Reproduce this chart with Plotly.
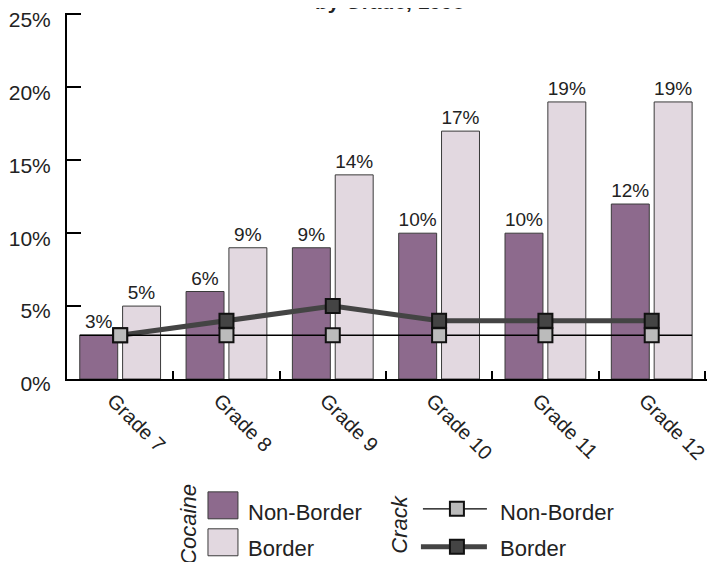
import plotly.graph_objects as go

grades = ["Grade 7", "Grade 8", "Grade 9", "Grade 10", "Grade 11", "Grade 12"]
cocaine_non_border = [3, 6, 9, 10, 10, 12]
cocaine_border = [5, 9, 14, 17, 19, 19]
crack_non_border = [3, 3, 3, 3, 3, 3]
crack_border = [3, 4, 5, 4, 4, 4]
y_ticks = [0, 5, 10, 15, 20, 25]
y_tick_labels = ["0%", "5%", "10%", "15%", "20%", "25%"]

PURPLE = "#8D6A8D"
PINK = "#E2D8E0"
EDGE = "#3A3A3A"
FONT = "Liberation Sans, Arial, sans-serif"

# axis ranges (slightly extended so the end ticks are not clipped)
X_RANGE = [-0.5, len(grades) - 0.5 + 0.02]
Y_RANGE = [0, 25.1]
X_UNIT = 638 / 6          # px per category
Y_UNIT = 365 / 25         # px per percent

# page body has an 8px default margin; the figure is sized to the visible window
OFF = 8
W, H = 718 - OFF, 562 - OFF
PL, PB = 67, 379                              # screen px of plot left / bottom
PW = (X_RANGE[1] - X_RANGE[0]) * X_UNIT
PH = (Y_RANGE[1] - Y_RANGE[0]) * Y_UNIT
PT = PB - PH
L, T = PL - OFF, PT - OFF
R = W - L - PW
B = H - T - PH

xs = list(range(len(grades)))
BAR_W = 0.357
GAP = 0.046

def px(x):
    return (x - PL) / PW

def py(y):
    return (PB - y) / PH

fig = go.Figure()

fig.add_trace(go.Bar(
    x=xs, y=cocaine_non_border, width=BAR_W, offset=-BAR_W - GAP / 2,
    marker=dict(color=PURPLE, line=dict(color=EDGE, width=1)),
    text=[f"{v}%" for v in cocaine_non_border], textposition="outside", constraintext="none",
    textfont=dict(size=19, color="#222", family=FONT), cliponaxis=False,
    showlegend=False, name="Cocaine Non-Border"))
fig.add_trace(go.Bar(
    x=xs, y=cocaine_border, width=BAR_W, offset=GAP / 2,
    marker=dict(color=PINK, line=dict(color=EDGE, width=1)),
    text=[f"{v}%" for v in cocaine_border], textposition="outside", constraintext="none",
    textfont=dict(size=19, color="#222", family=FONT), cliponaxis=False,
    showlegend=False, name="Cocaine Border"))

# crack border (thick)
fig.add_trace(go.Scatter(
    x=xs, y=crack_border, mode="lines+markers",
    line=dict(color="#444444", width=5),
    marker=dict(symbol="square", size=14, color="#444444", line=dict(color="#111", width=2)),
    showlegend=False, name="Crack Border", cliponaxis=False))
# crack non-border thin line spanning the bar groups
left_edge = xs[0] - BAR_W - GAP / 2
right_edge = xs[-1] + GAP / 2 + BAR_W
fig.add_trace(go.Scatter(
    x=[left_edge] + xs + [right_edge],
    y=[crack_non_border[0]] + crack_non_border + [crack_non_border[-1]],
    mode="lines", line=dict(color="#000", width=1.3),
    showlegend=False, hoverinfo="skip"))
fig.add_trace(go.Scatter(
    x=xs, y=crack_non_border, mode="markers",
    marker=dict(symbol="square", size=14, color="#BBBBBB", line=dict(color="#111", width=2)),
    showlegend=False, name="Crack Non-Border", cliponaxis=False))

fig.update_layout(
    width=W, height=H, autosize=False,
    margin=dict(l=L, r=R, t=T, b=B, pad=0),
    paper_bgcolor="white", plot_bgcolor="white",
    font=dict(family=FONT, color="#222"),
    barmode="overlay",
    xaxis=dict(
        range=X_RANGE, tickvals=xs, ticktext=grades,
        ticks="", tickangle=45, tickfont=dict(size=20, color="#222"),
        ticklabelshift=-7, ticklabeloverflow="allow",
        showline=True, linecolor="black", linewidth=2, showgrid=False, zeroline=False,
        automargin=False,
        minor=dict(tickvals=[x + 0.5 for x in xs], ticks="inside", ticklen=8,
                   tickwidth=2, tickcolor="black", showgrid=False),
    ),
    yaxis=dict(
        range=Y_RANGE, tickvals=y_ticks, ticktext=y_tick_labels,
        ticks="inside", ticklen=14, tickwidth=2, tickcolor="black",
        tickfont=dict(size=21, color="#222"), ticklabelstandoff=10, ticklabelshift=5,
        ticklabeloverflow="allow",
        showline=True, linecolor="black", linewidth=2, showgrid=False, zeroline=False,
        automargin=False,
    ),
)

shapes = []
annotations = []
LEG_FONT = dict(size=22, color="#222", family=FONT)

# title (cut at top)
annotations.append(dict(text="<b>by Grade, 1998</b>", xref="paper", yref="paper",
                        x=px(390), y=py(14.5), xanchor="center", yanchor="bottom",
                        showarrow=False, font=dict(size=21, color="#222", family=FONT)))

# legend: Cocaine
annotations.append(dict(text="<i>Cocaine</i>", textangle=-90, xref="paper", yref="paper",
                        x=px(189), y=py(524), xanchor="center", yanchor="middle",
                        showarrow=False, font=LEG_FONT))
shapes.append(dict(type="rect", xref="paper", yref="paper", x0=px(208), x1=px(238),
                   y0=py(519), y1=py(492), fillcolor=PURPLE, line=dict(color=EDGE, width=1)))
shapes.append(dict(type="rect", xref="paper", yref="paper", x0=px(208), x1=px(238),
                   y0=py(556), y1=py(529), fillcolor=PINK, line=dict(color=EDGE, width=1)))
annotations.append(dict(text="Non-Border", xref="paper", yref="paper", x=px(246), y=py(513),
                        xanchor="left", yanchor="middle", showarrow=False, font=LEG_FONT))
annotations.append(dict(text="Border", xref="paper", yref="paper", x=px(246), y=py(549),
                        xanchor="left", yanchor="middle", showarrow=False, font=LEG_FONT))

# legend: Crack
annotations.append(dict(text="<i>Crack</i>", textangle=-90, xref="paper", yref="paper",
                        x=px(400), y=py(525), xanchor="center", yanchor="middle",
                        showarrow=False, font=LEG_FONT))
shapes.append(dict(type="line", xref="paper", yref="paper", x0=px(423), x1=px(487),
                   y0=py(509), y1=py(509), line=dict(color="#000", width=1.3)))
shapes.append(dict(type="rect", xref="paper", yref="paper", x0=px(450), x1=px(464),
                   y0=py(516), y1=py(502), fillcolor="#BBBBBB", line=dict(color="#111", width=2)))
shapes.append(dict(type="line", xref="paper", yref="paper", x0=px(421), x1=px(487),
                   y0=py(547), y1=py(547), line=dict(color="#444444", width=5)))
shapes.append(dict(type="rect", xref="paper", yref="paper", x0=px(450), x1=px(464),
                   y0=py(554), y1=py(540), fillcolor="#444444", line=dict(color="#111", width=2)))
annotations.append(dict(text="Non-Border", xref="paper", yref="paper", x=px(498), y=py(513),
                        xanchor="left", yanchor="middle", showarrow=False, font=LEG_FONT))
annotations.append(dict(text="Border", xref="paper", yref="paper", x=px(498), y=py(549),
                        xanchor="left", yanchor="middle", showarrow=False, font=LEG_FONT))

fig.update_layout(shapes=shapes, annotations=annotations)

fig.write_html("out.html")
